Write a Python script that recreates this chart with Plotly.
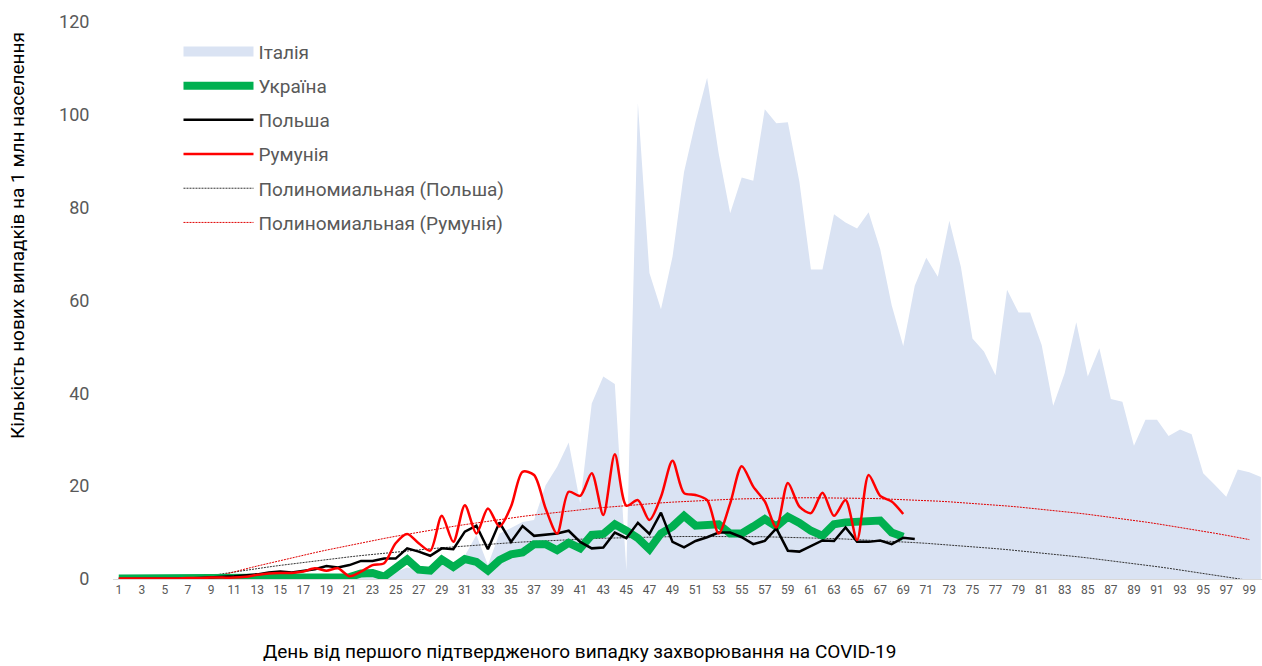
import numpy as np
import plotly.graph_objects as go

# ---------------- data ----------------
days_italy = list(range(1, 101))
italy = [0, 0, 0, 0, 0, 0, 0, 0, 0, 0,
         0, 0, 0, 0, 0, 0, 0, 0, 0, 0,
         0.3, 0.5, 0.8, 0.6, 1.5, 2.5, 2.0, 2.0, 3.0, 3.5,
         5.0, 9.5, 3.0, 9.8, 11.0, 12.3, 12.7, 20.2, 24.2, 29.4,
         16.3, 37.8, 43.6, 42.0, 1.9, 102.5, 65.9, 58.1, 69.4, 87.7,
         98.5, 108.0, 91.7, 78.8, 86.5, 85.8, 101.2, 98.2, 98.4, 85.6,
         66.7, 66.7, 78.6, 76.8, 75.5, 79.0, 71.1, 59.0, 50.2, 63.2,
         69.2, 65.1, 77.2, 67.2, 51.8, 49.0, 43.9, 62.3, 57.4, 57.4,
         50.4, 37.3, 44.4, 55.3, 43.6, 49.7, 38.8, 38.2, 28.7, 34.3,
         34.3, 30.8, 32.2, 31.2, 22.8, 20.3, 17.7, 23.6, 23.0, 22.0]

days_ukraine = list(range(1, 70))
ukraine = [0.1, 0.1, 0.1, 0.1, 0.1, 0.1, 0.1, 0.1, 0.1, 0.1,
           0.1, 0.2, 0.2, 0.2, 0.3, 0.3, 0.4, 0.4, 0.4, 0.5,
           0.4, 1.2, 1.3, 0.5, 2.3, 4.2, 2.0, 1.8, 4.2, 2.6,
           4.3, 3.7, 1.8, 4.1, 5.3, 5.7, 7.5, 7.5, 6.2, 7.8,
           6.6, 9.5, 9.7, 11.8, 10.4, 8.8, 6.4, 9.8, 11.3, 13.6,
           11.5, 11.5, 11.8, 9.8, 9.8, 11.3, 12.9, 11.3, 13.4, 12.1,
           10.4, 9.3, 11.8, 12.2, 12.3, 12.3, 12.6, 10.0, 9.1]

days_poland = list(range(1, 71))
poland = [0.0, 0.0, 0.0, 0.0, 0.1, 0.1, 0.1, 0.2, 0.4, 0.5,
          0.6, 0.8, 1.0, 1.4, 1.6, 1.4, 1.7, 2.1, 2.8, 2.5,
          3.0, 3.9, 3.9, 4.4, 4.4, 6.6, 5.9, 5.0, 6.6, 6.4,
          10.2, 11.5, 6.4, 12.2, 8.0, 11.4, 9.3, 9.6, 9.8, 10.4,
          8.0, 6.6, 6.8, 10.0, 8.8, 12.1, 9.7, 14.3, 8.0, 6.8,
          8.2, 9.0, 10.0, 10.0, 9.0, 7.5, 8.2, 10.9, 6.1, 5.9,
          7.1, 8.3, 8.2, 11.1, 8.0, 8.0, 8.3, 7.5, 8.9, 8.6]

days_romania = list(range(1, 70))
romania = [0.1, 0.1, 0.1, 0.1, 0.1, 0.1, 0.2, 0.2, 0.3, 0.3,
           0.3, 0.5, 0.9, 1.2, 1.3, 1.3, 1.6, 2.3, 1.8, 2.3,
           0.6, 1.6, 3.0, 3.4, 7.7, 9.7, 7.7, 6.1, 13.6, 8.0,
           15.9, 9.8, 15.2, 11.3, 15.6, 23.1, 22.4, 15.2, 9.8, 18.8,
           17.9, 22.8, 13.8, 26.9, 15.8, 17.0, 12.7, 17.7, 25.5, 18.5,
           18.1, 17.0, 9.8, 16.3, 24.3, 19.9, 16.7, 11.1, 20.7, 15.6,
           14.2, 18.6, 13.6, 17.0, 8.4, 22.4, 17.9, 16.7, 14.0]

days_trend = list(range(1, 100))
tick_days = days_italy[::2]

names = ["Італія", "Україна", "Польша", "Румунія",
         "Полиномиальная (Польша)", "Полиномиальная (Румунія)"]

# polynomial (order 2) trend lines, as in the spreadsheet
pl_fit = np.polyval(np.polyfit(days_poland, poland, 2), days_trend)
ro_fit = np.polyval(np.polyfit(days_romania, romania, 2), days_trend)

FONT = "Roboto"
GREY = "#595959"
ITALY_FILL = "#DAE3F3"

fig = go.Figure()
fig.add_trace(go.Scatter(x=days_italy, y=italy, name=names[0], mode="none",
                         fill="tozeroy", fillcolor=ITALY_FILL, showlegend=False,
                         legendgroup="g1"))
# legend key for the area (box-like swatch)
fig.add_trace(go.Scatter(x=[None], y=[None], name=names[0], mode="lines",
                         line=dict(color=ITALY_FILL, width=12),
                         legendgroup="g1", legendrank=1))
fig.add_trace(go.Scatter(x=days_trend, y=pl_fit, name=names[4], mode="lines",
                         line=dict(color="#333333", width=1, dash="2px,1px"),
                         legendgroup="g5", legendrank=5))
fig.add_trace(go.Scatter(x=days_trend, y=ro_fit, name=names[5], mode="lines",
                         line=dict(color="#E00000", width=1, dash="2px,1px"),
                         legendgroup="g6", legendrank=6))
fig.add_trace(go.Scatter(x=days_ukraine, y=ukraine, name=names[1], mode="lines",
                         line=dict(color="#00B050", width=8),
                         legendgroup="g2", legendrank=2))
fig.add_trace(go.Scatter(x=days_poland, y=poland, name=names[2], mode="lines",
                         line=dict(color="#000000", width=2.5),
                         legendgroup="g3", legendrank=3))
fig.add_trace(go.Scatter(x=days_romania, y=romania, name=names[3], mode="lines",
                         line=dict(color="#FF0000", width=2.5, shape="spline", smoothing=0.8),
                         legendgroup="g4", legendrank=4))

fig.update_layout(
    width=1262, height=666,
    margin=dict(l=113, r=0, t=22, b=87),
    paper_bgcolor="white", plot_bgcolor="white",
    font=dict(family=FONT, color=GREY, size=19),
    legend=dict(x=0.057, y=0.981, xanchor="left", yanchor="top",
                itemwidth=70, font=dict(size=19, color=GREY),
                traceorder="grouped", tracegroupgap=6.5,
                bgcolor="rgba(0,0,0,0)"),
    xaxis=dict(range=[0.5, 100.1], tickmode="array", tickvals=tick_days,
               ticktext=[str(d) for d in tick_days],
               tickfont=dict(size=12, color=GREY), showgrid=False, zeroline=False,
               showline=True, linecolor="#D9D9D9", linewidth=1, ticks=""),
    yaxis=dict(range=[0, 120], dtick=20, tickfont=dict(size=18, color=GREY),
               showgrid=False, zeroline=False, showline=False,
               ticks="outside", ticklen=19, tickcolor="rgba(0,0,0,0)"),
    annotations=[
        dict(text="Кількість нових випадків на 1 млн населення", xref="paper", yref="paper",
             x=-0.0827, y=0.6176, xanchor="center", yanchor="middle", textangle=-90,
             showarrow=False, font=dict(size=19, color="#000000")),
        dict(text="День від першого підтвердженого випадку захворювання на COVID-19",
             xref="paper", yref="paper", x=0.4064, y=-0.131, xanchor="center",
             yanchor="middle", showarrow=False, font=dict(size=19, color="#000000")),
    ],
)

fig.write_html("out.html", config={"displayModeBar": False},
               post_script="document.body.style.margin='0';")
